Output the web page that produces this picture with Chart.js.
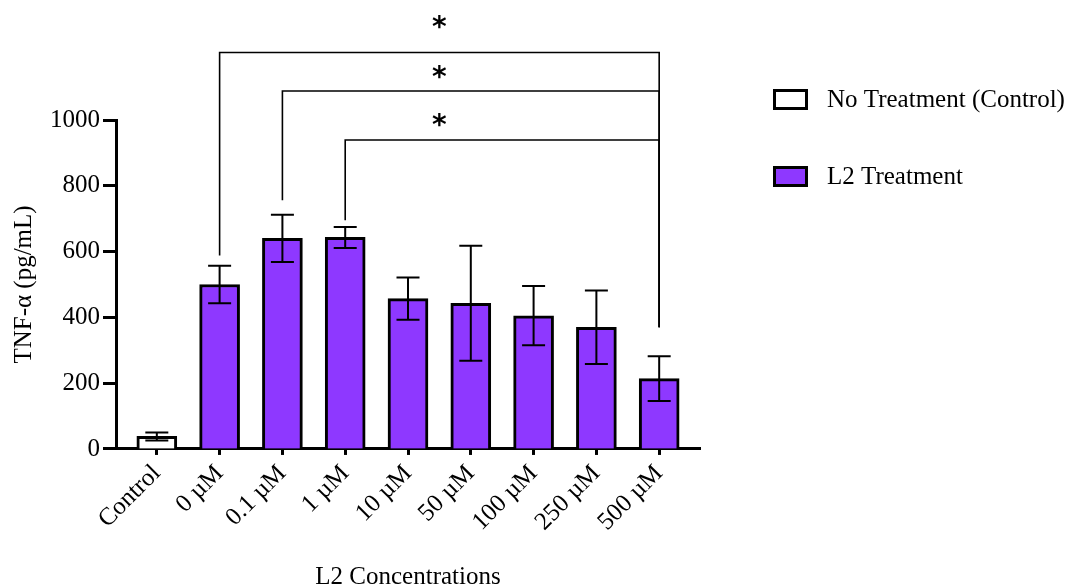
<!DOCTYPE html>
<html lang="en">
<head>
    <meta charset="UTF-8">
    <title>TNF-alpha vs L2 concentration</title>
    <script src="https://cdn.jsdelivr.net/npm/chart.js@4.4.0/dist/chart.umd.min.js"></script>
    <style>
        body {
            margin: 0;
            background: #fff;
        }

        .wrap {
            width: 1074px;
            height: 587px;
        }
    </style>
</head>
<body>
<div class="wrap">
    <canvas id="myChart" width="1074" height="587"></canvas>
</div>

<script>
    // values
    var categories = ["Control", "0 \u00b5M", "0.1 \u00b5M", "1 \u00b5M", "10 \u00b5M", "50 \u00b5M", "100 \u00b5M", "250 \u00b5M", "500 \u00b5M"];
    var controlMean = [38];
    var controlSd = [12];
    var l2Mean = [500, 640, 643, 457, 443, 405, 370, 214];
    var l2Sd = [57, 72, 32, 64, 175, 90, 112, 68];

    // significance brackets (category index, pg/mL)
    var bracketFrom = [1, 2, 3];
    var bracketTo = [8, 8, 8];
    var bracketTop = [1205, 1088, 939];
    var bracketLeftEnd = [588, 756, 695];
    var bracketRightEnd = [370, 370, 370];
    var starAt = [1297, 1147, 1000];
    var starX = 4.5;

    var serif = "'Liberation Serif', 'Times New Roman', serif";
    var purple = "#8e38ff";
    var fontSize = 25;

    var controlPoints = controlMean.map(function (v, i) { return {x: i, y: v}; });
    var l2Points = l2Mean.map(function (v, i) { return {x: i + 1, y: v}; });
    var allSd = controlSd.concat(l2Sd);
    var allMean = controlMean.concat(l2Mean);

    var errorBars = {
        id: "errorBars",
        afterDatasetsDraw: function (chart) {
            var ctx = chart.ctx, xs = chart.scales.x, ys = chart.scales.y;
            ctx.save();
            ctx.strokeStyle = "#000";
            ctx.lineWidth = 2;
            for (var i = 0; i < allMean.length; i++) {
                var x = xs.getPixelForValue(i);
                var top = ys.getPixelForValue(allMean[i] + allSd[i]);
                var bot = ys.getPixelForValue(allMean[i] - allSd[i]);
                ctx.beginPath();
                ctx.moveTo(x, top); ctx.lineTo(x, bot);
                ctx.moveTo(x - 11.5, top); ctx.lineTo(x + 11.5, top);
                ctx.moveTo(x - 11.5, bot); ctx.lineTo(x + 11.5, bot);
                ctx.stroke();
            }
            ctx.restore();
        }
    };

    var brackets = {
        id: "brackets",
        afterDraw: function (chart) {
            var ctx = chart.ctx, xs = chart.scales.x, ys = chart.scales.y;
            ctx.save();
            ctx.strokeStyle = "#000";
            ctx.lineWidth = 1.6;
            for (var i = 0; i < bracketFrom.length; i++) {
                var x1 = xs.getPixelForValue(bracketFrom[i]);
                var x2 = xs.getPixelForValue(bracketTo[i]);
                var yt = ys.getPixelForValue(bracketTop[i]);
                ctx.beginPath();
                ctx.moveTo(x1, ys.getPixelForValue(bracketLeftEnd[i]));
                ctx.lineTo(x1, yt);
                ctx.lineTo(x2, yt);
                ctx.lineTo(x2, ys.getPixelForValue(bracketRightEnd[i]));
                ctx.stroke();
            }
            ctx.fillStyle = "#000";
            ctx.font = "bold 28px 'DejaVu Sans', sans-serif";
            ctx.textAlign = "center";
            var m = ctx.measureText("*");
            var off = (m.actualBoundingBoxAscent - m.actualBoundingBoxDescent) / 2;
            for (var j = 0; j < starAt.length; j++) {
                ctx.fillText("*", xs.getPixelForValue(starX), ys.getPixelForValue(starAt[j]) + off);
            }
            ctx.restore();
        }
    };

    var sideLegend = {
        id: "sideLegend",
        afterDraw: function (chart) {
            var ctx = chart.ctx;
            var rows = [99.5, 176.5];
            ctx.save();
            ctx.font = fontSize + "px " + serif;
            ctx.textBaseline = "middle";
            chart.data.datasets.forEach(function (ds, i) {
                ctx.fillStyle = ds.backgroundColor;
                ctx.fillRect(773, rows[i] - 10.5, 35, 21);
                ctx.lineWidth = 3;
                ctx.strokeStyle = "#000";
                ctx.strokeRect(774.5, rows[i] - 9, 32, 18);
                ctx.fillStyle = "#000";
                ctx.fillText(ds.label, 827, rows[i] + 1);
            });
            ctx.restore();
        }
    };

    var ctx = document.getElementById("myChart").getContext("2d");
    var myChart = new Chart(ctx, {
        type: "bar",
        data: {
            datasets: [
                {
                    label: "No Treatment (Control)",
                    data: controlPoints,
                    backgroundColor: "#ffffff",
                    borderColor: "#000",
                    borderWidth: 3,
                    barThickness: 40,
                    grouped: false
                },
                {
                    label: "L2 Treatment",
                    data: l2Points,
                    backgroundColor: purple,
                    borderColor: "#000",
                    borderWidth: 3,
                    barThickness: 40,
                    grouped: false
                }
            ]
        },
        options: {
            responsive: false,
            animation: false,
            layout: {
                padding: {top: 120, right: 374, bottom: -5, left: 9}
            },
            plugins: {
                legend: {display: false},
                tooltip: {enabled: false}
            },
            scales: {
                x: {
                    type: "linear",
                    offset: false,
                    min: -0.65,
                    max: 8.65,
                    afterBuildTicks: function (scale) {
                        scale.ticks = categories.map(function (c, i) { return {value: i}; });
                    },
                    ticks: {
                        color: "#000",
                        font: {family: serif, size: fontSize},
                        minRotation: 45,
                        maxRotation: 45,
                        padding: 4,
                        callback: function (v) { return categories[v]; }
                    },
                    grid: {
                        offset: false,
                        drawOnChartArea: false,
                        tickLength: 6,
                        tickWidth: 3,
                        color: "#000"
                    },
                    border: {color: "#000", width: 3},
                    title: {
                        display: true,
                        text: "L2 Concentrations",
                        color: "#000",
                        font: {family: serif, size: fontSize},
                        padding: {top: 21, bottom: 0}
                    }
                },
                y: {
                    min: 0,
                    max: 1000,
                    ticks: {
                        stepSize: 200,
                        color: "#000",
                        font: {family: serif, size: fontSize},
                        padding: 3,
                        callback: function (v) { return String(v); }
                    },
                    grid: {
                        drawOnChartArea: false,
                        tickLength: 13,
                        tickWidth: 3,
                        color: "#000"
                    },
                    border: {color: "#000", width: 3},
                    title: {
                        display: true,
                        text: "TNF-\u03b1 (pg/mL)",
                        color: "#000",
                        font: {family: serif, size: fontSize},
                        padding: {top: 0, bottom: 8}
                    }
                }
            }
        },
        plugins: [errorBars, brackets, sideLegend]
    });
</script>
</body>
</html>
